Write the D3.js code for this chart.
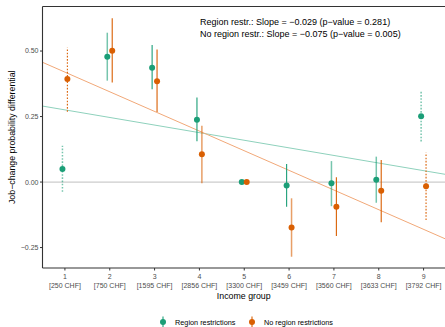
<!DOCTYPE html>
<html><head><meta charset="utf-8">
<script src="https://cdn.jsdelivr.net/npm/d3@7"></script>
<style>body{margin:0;background:#fff}svg{font-family:"Liberation Sans",Arial,sans-serif}</style>
</head><body><svg id="c" width="445" height="327"></svg>
<script>
const groups = [1,2,3,4,5,6,7,8,9];
const groupLabels = ["[250 CHF]","[750 CHF]","[1595 CHF]","[2856 CHF]","[3300 CHF]","[3459 CHF]","[3560 CHF]","[3633 CHF]","[3792 CHF]"];
const yTicks = [-0.25, 0, 0.25, 0.5];
const seriesNames = ["Region restrictions","No region restrictions"];
const regionEst = [0.050, 0.478, 0.436, 0.238, 0, -0.013, -0.005, 0.009, 0.251];
const regionLo  = [-0.037, 0.387, 0.354, 0.156, 0, -0.094, -0.092, -0.079, 0.155];
const regionHi  = [0.139, 0.570, 0.523, 0.323, 0, 0.069, 0.080, 0.097, 0.345];
const regionFaint = [1, 1, 0, 0, 0, 0, 1, 1, 1];
const noRegionEst = [0.393, 0.501, 0.385, 0.106, 0, -0.173, -0.094, -0.033, -0.016];
const noRegionLo  = [0.268, 0.380, 0.267, -0.005, 0, -0.285, -0.206, -0.153, -0.145];
const noRegionHi  = [0.514, 0.625, 0.506, 0.215, 0, -0.062, 0.018, 0.084, 0.113];
const noRegionFaint = [0, 0, 0, 1, 0, 1, 0, 0, 0];
const dottedGroups = [1, 9];
const fitIntercept = [0.3045, 0.4945];
const fitSlope = [-0.029, -0.075];
const annotations = ["Region restr.: Slope = \u22120.029 (p\u2212value = 0.281)",
                     "No region restr.: Slope = \u22120.075 (p\u2212value = 0.005)"];
const colors = ["#1B9E77", "#D95F02"];
const lineColors = ["#8ED1BC", "#F1A878"];

const svg = d3.select("#c");
const L = 42.5, R = 446, T = 6.5, B = 268;
const x = d3.scaleLinear().domain([0.5, 9.5]).range([L, R]);
const y = d3.scaleLinear().domain([-0.328, 0.67]).range([B, T]);

const g = svg.append("g");
g.append("line").attr("x1", L).attr("x2", R).attr("y1", y(0)).attr("y2", y(0))
  .attr("stroke", "#cccccc").attr("stroke-width", 1.3);

[0,1].forEach(s => {
  g.append("line")
    .attr("x1", x(0.5)).attr("y1", y(fitIntercept[s] + fitSlope[s]*0.5))
    .attr("x2", x(9.5)).attr("y2", y(fitIntercept[s] + fitSlope[s]*9.5))
    .attr("stroke", lineColors[s]).attr("stroke-width", 1);
});

const series = [
  {est: regionEst, lo: regionLo, hi: regionHi, faint: regionFaint, dx: -0.055},
  {est: noRegionEst, lo: noRegionLo, hi: noRegionHi, faint: noRegionFaint, dx: 0.055}
];
series.forEach((sr, s) => {
  groups.forEach((gr, i) => {
    const xx = x(gr + sr.dx);
    const dotted = dottedGroups.includes(gr);
    const faint = sr.faint[i] === 1;
    if (sr.hi[i] !== sr.lo[i]) {
      g.append("line").attr("x1", xx).attr("x2", xx)
        .attr("y1", y(sr.lo[i])).attr("y2", y(sr.hi[i]))
        .attr("stroke", colors[s]).attr("stroke-width", faint ? 1.5 : 1.1)
        .attr("stroke-opacity", faint ? 0.6 : 1)
        .attr("stroke-dasharray", dotted ? "1.6,1.6" : null);
    }
    g.append("circle").attr("cx", xx).attr("cy", y(sr.est[i])).attr("r", 3)
      .attr("fill", colors[s]);
  });
});

svg.append("line").attr("x1", L).attr("x2", R).attr("y1", T).attr("y2", T).attr("stroke", "#333").attr("stroke-width", 1);
svg.append("line").attr("x1", L).attr("x2", L).attr("y1", T).attr("y2", B).attr("stroke", "#333").attr("stroke-width", 1.1);
svg.append("line").attr("x1", L).attr("x2", R).attr("y1", B).attr("y2", B).attr("stroke", "#333").attr("stroke-width", 1.1);

yTicks.forEach(t => {
  svg.append("line").attr("x1", L - 2.5).attr("x2", L).attr("y1", y(t)).attr("y2", y(t)).attr("stroke", "#333");
  svg.append("text").attr("x", L - 4).attr("y", y(t)).attr("dy", "0.35em")
    .attr("text-anchor", "end").attr("font-size", 7).attr("fill", "#4d4d4d")
    .text(t === 0 ? "0.00" : (t < 0 ? "\u2212" : "") + Math.abs(t).toFixed(2));
});
groups.forEach((gr, i) => {
  svg.append("line").attr("x1", x(gr)).attr("x2", x(gr)).attr("y1", B).attr("y2", B + 2.5).attr("stroke", "#333");
  const t = svg.append("text").attr("x", x(gr)).attr("text-anchor", "middle")
    .attr("font-size", 7).attr("fill", "#4d4d4d");
  t.append("tspan").attr("x", x(gr)).attr("y", 279).text(gr);
  t.append("tspan").attr("x", x(gr)).attr("y", 288).text(groupLabels[i]);
});

svg.append("text").attr("x", (L + 445) / 2).attr("y", 298.5).attr("text-anchor", "middle")
  .attr("font-size", 8.8).attr("fill", "#000").text("Income group");
svg.append("text").attr("transform", `translate(14.5,${(T + B) / 2}) rotate(-90)`)
  .attr("text-anchor", "middle").attr("font-size", 8.8).attr("fill", "#000")
  .text("Job\u2212change probability differential");

annotations.forEach((a, i) => {
  svg.append("text").attr("x", 200).attr("y", 24.5 + i * 12.5).attr("font-size", 9)
    .attr("fill", "#000").text(a);
});

const legX = [163, 252];
seriesNames.forEach((n, s) => {
  const lg = svg.append("g");
  lg.append("line").attr("x1", legX[s]).attr("x2", legX[s]).attr("y1", 316.5).attr("y2", 327)
    .attr("stroke", colors[s]).attr("stroke-width", 1.1);
  lg.append("circle").attr("cx", legX[s]).attr("cy", 322).attr("r", 3).attr("fill", colors[s]);
  lg.append("text").attr("x", legX[s] + 12).attr("y", 322).attr("dy", "0.35em")
    .attr("font-size", 7.3).attr("fill", "#000").text(n);
});
</script></body></html>
